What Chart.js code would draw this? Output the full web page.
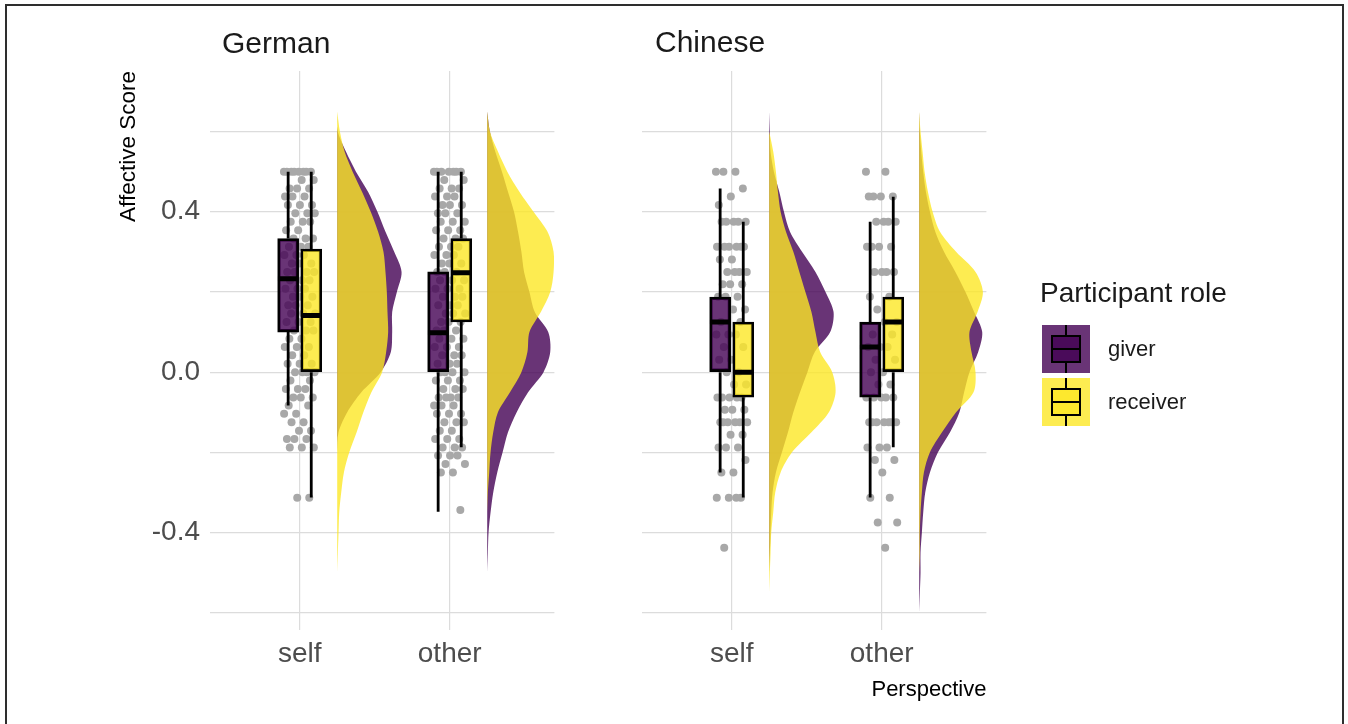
<!DOCTYPE html>
<html>
<head>
<meta charset="utf-8">
<script src="https://cdn.jsdelivr.net/npm/chart.js@4.4.1/dist/chart.umd.min.js"></script>
<style>
  html, body { margin: 0; padding: 0; background: #fff; }
  body { width: 1348px; height: 724px; position: relative; overflow: hidden;
         font-family: "Liberation Sans", Arial, sans-serif; }
  #frame { position: absolute; left: 5px; top: 4px; width: 1339px; height: 760px;
           box-sizing: border-box; border: 2px solid #2e2e2e; }
  canvas { position: absolute; top: 0; }
  #c1 { left: 0; }
  #c2 { left: 600px; }
  .txt { position: absolute; white-space: nowrap; color: #1a1a1a; }
  .strip { font-size: 30px; line-height: 30px; }
  .legtitle { font-size: 28px; line-height: 28px; }
  .leglab { font-size: 22px; line-height: 22px; }
  .key { position: absolute; width: 48px; height: 48px; }
  .key .wh { position: absolute; left: 23px; width: 2px; background: #000; }
  .key .bx { position: absolute; left: 9px; top: 10px; width: 30px; height: 28px;
             box-sizing: border-box; border: 2px solid #000; }
  .key .md { position: absolute; left: 9px; top: 23px; width: 30px; height: 2px; background: #000; }
</style>
</head>
<body>
<div id="frame"></div>
<canvas id="c1" width="600" height="724"></canvas>
<canvas id="c2" width="748" height="724"></canvas>
<div class="txt strip" style="left:222px;top:28px">German</div>
<div class="txt strip" style="left:655px;top:27px">Chinese</div>
<div id="legend"></div>

<script>
// ---------------- data ----------------
const CATEGORIES = ['self', 'other'];
const ROLES = ['giver', 'receiver'];
const LEGEND_TITLE = 'Participant role';
const Y_AXIS_TITLE = 'Affective Score';
const X_AXIS_TITLE = 'Perspective';
const Y_GRID = [-0.6, -0.4, -0.2, 0, 0.2, 0.4, 0.6];
const Y_LABELS = [-0.4, 0, 0.4];

// box statistics per perspective (self, other): [lower whisker, Q1, median, Q3, upper whisker]
const germanGiverBox    = [[-0.083, 0.100, 0.233, 0.333, 0.5], [-0.348, 0.0, 0.098, 0.250, 0.5]];
const germanReceiverBox = [[-0.3125, 0.0, 0.141, 0.307, 0.5], [-0.1875, 0.125, 0.248, 0.333, 0.5]];
const chineseGiverBox    = [[-0.25, 0.0, 0.125, 0.1875, 0.458], [-0.3125, -0.0625, 0.0625, 0.125, 0.375]];
const chineseReceiverBox = [[-0.3125, -0.0625, 0.0, 0.125, 0.375], [-0.1875, 0.0, 0.125, 0.1875, 0.4375]];

// individual scores (both roles) per perspective
const germanSelfScores = [0.5,0.5,0.5,0.5,0.5,0.5,0.5,0.5,0.479,0.479,0.458,0.458,0.458,0.438,0.438,0.438,
  0.417,0.417,0.417,0.396,0.396,0.396,0.375,0.375,0.375,0.354,0.354,0.333,0.333,0.333,0.313,0.313,0.313,
  0.292,0.292,0.292,0.271,0.271,0.271,0.25,0.25,0.25,0.25,0.229,0.229,0.229,0.208,0.208,0.208,
  0.188,0.188,0.188,0.167,0.167,0.167,0.146,0.146,0.146,0.125,0.125,0.125,0.104,0.104,0.104,0.083,0.083,
  0.063,0.063,0.063,0.042,0.042,0.021,0.021,0.021,0,0,0,0,-0.021,-0.021,-0.042,-0.042,-0.042,
  -0.063,-0.063,-0.063,-0.083,-0.083,-0.104,-0.104,-0.125,-0.125,-0.146,-0.146,-0.167,-0.167,-0.167,
  -0.188,-0.188,-0.188,-0.313,-0.313];
const germanOtherScores = [0.5,0.5,0.5,0.5,0.5,0.5,0.5,0.479,0.479,0.458,0.458,0.458,0.438,0.438,0.438,
  0.417,0.417,0.417,0.396,0.396,0.396,0.375,0.375,0.375,0.354,0.354,0.354,0.333,0.333,0.333,0.313,0.313,0.313,
  0.292,0.292,0.292,0.271,0.271,0.271,0.25,0.25,0.25,0.229,0.229,0.229,0.208,0.208,0.208,
  0.188,0.188,0.188,0.167,0.167,0.167,0.146,0.146,0.146,0.125,0.125,0.125,0.104,0.104,0.104,
  0.083,0.083,0.083,0.063,0.063,0.063,0.042,0.042,0.042,0.021,0.021,0.021,0,0,0,0,
  -0.021,-0.021,-0.021,-0.042,-0.042,-0.042,-0.063,-0.063,-0.063,-0.063,-0.083,-0.083,-0.083,
  -0.104,-0.104,-0.104,-0.125,-0.125,-0.125,-0.146,-0.146,-0.167,-0.167,-0.167,-0.188,-0.188,-0.188,
  -0.208,-0.208,-0.208,-0.229,-0.229,-0.25,-0.25,-0.344];
const chineseSelfScores = [0.5,0.5,0.5,0.458,0.438,0.417,0.375,0.375,0.375,0.375,0.375,
  0.313,0.313,0.313,0.313,0.313,0.313,0.281,0.281,0.25,0.25,0.25,0.25,0.219,0.219,0.219,
  0.188,0.188,0.188,0.156,0.156,0.125,0.125,0.094,0.094,0.094,0.063,0.063,0.031,0.031,0,0,
  -0.031,-0.031,-0.063,-0.063,-0.063,-0.063,-0.063,-0.094,-0.094,-0.094,
  -0.125,-0.125,-0.125,-0.125,-0.125,-0.125,-0.156,-0.156,-0.188,-0.188,-0.188,-0.219,
  -0.25,-0.25,-0.313,-0.313,-0.313,-0.313,-0.438];
const chineseOtherScores = [0.5,0.5,0.438,0.438,0.438,0.438,0.375,0.375,0.375,0.375,
  0.313,0.313,0.313,0.313,0.25,0.25,0.25,0.25,0.188,0.188,0.156,0.125,0.125,0.094,0.094,
  0.063,0.063,0.063,0.031,0.031,0,0,-0.031,-0.031,-0.063,-0.063,-0.063,-0.063,-0.063,
  -0.125,-0.125,-0.125,-0.125,-0.125,-0.125,-0.125,-0.188,-0.188,-0.188,-0.219,-0.219,
  -0.25,-0.313,-0.313,-0.375,-0.375,-0.438];

// kernel density estimates (relative heights) evaluated at these scores
const DENSITY_Y = [-0.6,-0.55,-0.5,-0.45,-0.4,-0.35,-0.3,-0.25,-0.2,-0.15,-0.1,-0.05,0,
  0.05,0.1,0.15,0.2,0.25,0.3,0.35,0.4,0.45,0.5,0.55,0.6,0.65];
const germanSelfGiverDensity     = [0,0,0,0,0,0,0,0,0,0.02,0.15,0.36,0.65,0.80,0.82,0.82,0.89,0.96,0.85,0.72,0.60,0.46,0.28,0.13,0.01,0];
const germanSelfReceiverDensity  = [0,0,0,0.01,0.02,0.03,0.06,0.10,0.18,0.29,0.39,0.51,0.67,0.73,0.76,0.75,0.74,0.72,0.69,0.61,0.50,0.37,0.23,0.11,0.04,0];
const germanOtherGiverDensity    = [0,0,0,0.01,0.02,0.05,0.09,0.15,0.23,0.31,0.44,0.61,0.84,0.94,0.91,0.71,0.63,0.55,0.51,0.46,0.40,0.31,0.22,0.12,0.04,0];
const germanOtherReceiverDensity = [0,0,0,0,0,0,0.01,0.03,0.05,0.09,0.16,0.34,0.51,0.60,0.63,0.80,0.94,0.99,0.99,0.90,0.69,0.48,0.30,0.16,0.04,0];
const chineseSelfGiverDensity     = [0,0,0,0.01,0.02,0.03,0.05,0.10,0.19,0.28,0.36,0.46,0.57,0.68,0.91,0.96,0.84,0.69,0.49,0.31,0.22,0.15,0.07,0.02,0.01,0];
const chineseSelfReceiverDensity  = [0,0,0.01,0.02,0.03,0.06,0.09,0.17,0.34,0.63,0.89,0.99,0.94,0.76,0.69,0.63,0.54,0.45,0.36,0.25,0.17,0.13,0.10,0.06,0,0];
const chineseOtherGiverDensity    = [0,0.01,0.02,0.02,0.04,0.06,0.09,0.16,0.28,0.46,0.60,0.67,0.75,0.88,0.94,0.82,0.69,0.54,0.37,0.24,0.16,0.10,0.06,0.03,0.01,0];
const chineseOtherReceiverDensity = [0,0,0,0.01,0.01,0.02,0.04,0.07,0.16,0.34,0.55,0.81,0.84,0.78,0.75,0.87,0.95,0.84,0.55,0.31,0.20,0.13,0.08,0.05,0.02,0];

// ---------------- styling ----------------
const FONT = '"Liberation Sans", Arial, sans-serif';
const FILL = ['rgba(68,1,84,0.8)', 'rgba(253,231,37,0.8)'];
const GRID_COLOR = '#dcdcdc';
const TICK_COLOR = '#4d4d4d';
const POINT_COLOR = '#a8a8a8';
const DODGE = [-0.077, 0.077];     // box offset for giver / receiver
const MEDIAN_HALF = 0.068;         // half box width in category units
const CLOUD_OFFSET = 0.25;         // density baseline right of category
const CLOUD_SCALE = 0.447;         // category units for a relative density of 1
const X_MIN = 0.402, X_MAX = 2.698;
const Y_MIN = -0.643, Y_MAX = 0.751;

Chart.defaults.font.family = FONT;

// deterministic horizontal spread for the raw points
const spread = i => (((i * 0.6180339887) % 1) - 0.5) * 0.21;

// keep only the part of a density curve that has support (plus one closing zero each end)
function supportRange(rel) {
  let lo = rel.findIndex(v => v > 0);
  let hi = rel.length - 1;
  while (hi > 0 && rel[hi] === 0) hi--;
  return [Math.max(lo - 1, 0), Math.min(hi + 1, rel.length - 1)];
}

function panelDatasets(giverBox, receiverBox, scores, giverDens, receiverDens) {
  const ds = [];
  const boxes = [giverBox, receiverBox];
  const dens = [giverDens, receiverDens];

  // half-violin clouds, receiver above giver
  dens.forEach((byCat, r) => {
    byCat.forEach((rel, c) => {
      const base = c + 1 + CLOUD_OFFSET;
      const [lo, hi] = supportRange(rel);
      const data = [];
      for (let i = lo; i <= hi; i++) data.push({ x: base + rel[i] * CLOUD_SCALE, y: DENSITY_Y[i] });
      ds.push({
        type: 'line', indexAxis: 'y', order: 40 - r, data,
        fill: { value: base }, backgroundColor: FILL[r],
        borderWidth: 0, borderColor: 'transparent', pointRadius: 0, tension: 0.3
      });
    });
  });

  // raw points
  const pts = [];
  scores.forEach((arr, c) => arr.forEach((v, i) => pts.push({ x: c + 1 + spread(i), y: v })));
  ds.push({ type: 'scatter', order: 30, data: pts, pointRadius: 4,
            pointBackgroundColor: POINT_COLOR, pointBorderWidth: 0, pointHoverRadius: 4 });

  boxes.forEach((byCat, r) => {
    // whiskers
    const wh = [];
    byCat.forEach((b, c) => {
      const x = c + 1 + DODGE[r];
      wh.push({ x, y: b[3] }, { x, y: b[4] }, { x: null, y: null },
              { x, y: b[1] }, { x, y: b[0] }, { x: null, y: null });
    });
    ds.push({ type: 'line', order: 25, data: wh, borderColor: '#000', borderWidth: 2.8,
              pointRadius: 0, tension: 0, spanGaps: false, fill: false });
    // boxes
    ds.push({ type: 'bar', order: 20, grouped: false, barThickness: 21, borderSkipped: false,
              data: byCat.map((b, c) => ({ x: c + 1 + DODGE[r], y: [b[1], b[3]] })),
              backgroundColor: FILL[r], borderColor: '#000', borderWidth: 2.6 });
    // medians
    const md = [];
    byCat.forEach((b, c) => {
      const x = c + 1 + DODGE[r];
      md.push({ x: x - MEDIAN_HALF, y: b[2] }, { x: x + MEDIAN_HALF, y: b[2] }, { x: null, y: null });
    });
    ds.push({ type: 'line', order: 10, data: md, borderColor: '#000', borderWidth: 5,
              pointRadius: 0, tension: 0, spanGaps: false, fill: false });
  });
  return ds;
}

function panelOptions(isFirst, rightPad) {
  return {
    responsive: false, animation: false, events: [],
    layout: { padding: { left: 0, right: rightPad, top: 71, bottom: 0 } },
    plugins: { legend: { display: false }, title: { display: false }, tooltip: { enabled: false } },
    scales: {
      x: {
        type: 'linear', min: X_MIN, max: X_MAX, offset: false,
        afterBuildTicks: s => { s.ticks = CATEGORIES.map((_, i) => ({ value: i + 1 })); },
        afterFit: s => { s.height = 94; },
        ticks: { callback: v => CATEGORIES[Math.round(v) - 1], color: TICK_COLOR,
                 font: { size: 28 }, padding: 7, maxRotation: 0, autoSkip: false },
        grid: { color: GRID_COLOR, lineWidth: 1.2, drawTicks: false, offset: false },
        border: { display: false },
        title: { display: !isFirst, text: X_AXIS_TITLE, align: 'end', color: '#000',
                 font: { size: 22 }, padding: { top: 0, bottom: 20.4 } }
      },
      y: {
        type: 'linear', min: Y_MIN, max: Y_MAX, beginAtZero: false, offset: false,
        afterBuildTicks: s => { s.ticks = Y_GRID.map(v => ({ value: v })); },
        afterFit: s => { s.width = isFirst ? 210 : 42; },
        ticks: { display: isFirst, color: TICK_COLOR, font: { size: 28 }, padding: 10,
                 callback: v => Y_LABELS.some(l => Math.abs(l - v) < 1e-9) ? v.toFixed(1) : '' },
        grid: { color: GRID_COLOR, lineWidth: 1.2, drawTicks: false, offset: false },
        border: { display: false },
        title: { display: isFirst, text: Y_AXIS_TITLE, align: 'end', color: '#000',
                 font: { size: 22.5 }, padding: { top: 115.5, bottom: 0 } }
      }
    }
  };
}

new Chart(document.getElementById('c1'), {
  type: 'scatter',
  data: { datasets: panelDatasets(germanGiverBox, germanReceiverBox,
          [germanSelfScores, germanOtherScores],
          [germanSelfGiverDensity, germanOtherGiverDensity],
          [germanSelfReceiverDensity, germanOtherReceiverDensity]) },
  options: panelOptions(true, 600 - 554.4)
});

new Chart(document.getElementById('c2'), {
  type: 'scatter',
  data: { datasets: panelDatasets(chineseGiverBox, chineseReceiverBox,
          [chineseSelfScores, chineseOtherScores],
          [chineseSelfGiverDensity, chineseOtherGiverDensity],
          [chineseSelfReceiverDensity, chineseOtherReceiverDensity]) },
  options: panelOptions(false, 748 - 386.4)
});

// legend
const legend = document.getElementById('legend');
const t = document.createElement('div');
t.className = 'txt legtitle'; t.style.left = '1040px'; t.style.top = '279px';
t.textContent = LEGEND_TITLE; legend.appendChild(t);
ROLES.forEach((role, r) => {
  const top = 325 + r * 52.5;
  const key = document.createElement('div');
  key.className = 'key';
  key.style.left = '1042px'; key.style.top = top + 'px'; key.style.background = FILL[r];
  key.innerHTML = '<div class="wh" style="top:0;height:10px"></div>' +
                  '<div class="bx" style="background:' + FILL[r] + '"></div>' +
                  '<div class="md"></div>' +
                  '<div class="wh" style="top:38px;height:10px"></div>';
  legend.appendChild(key);
  const lab = document.createElement('div');
  lab.className = 'txt leglab';
  lab.style.left = '1108px'; lab.style.top = (top + 13.3) + 'px';
  lab.textContent = role;
  legend.appendChild(lab);
});
</script>
</body>
</html>
